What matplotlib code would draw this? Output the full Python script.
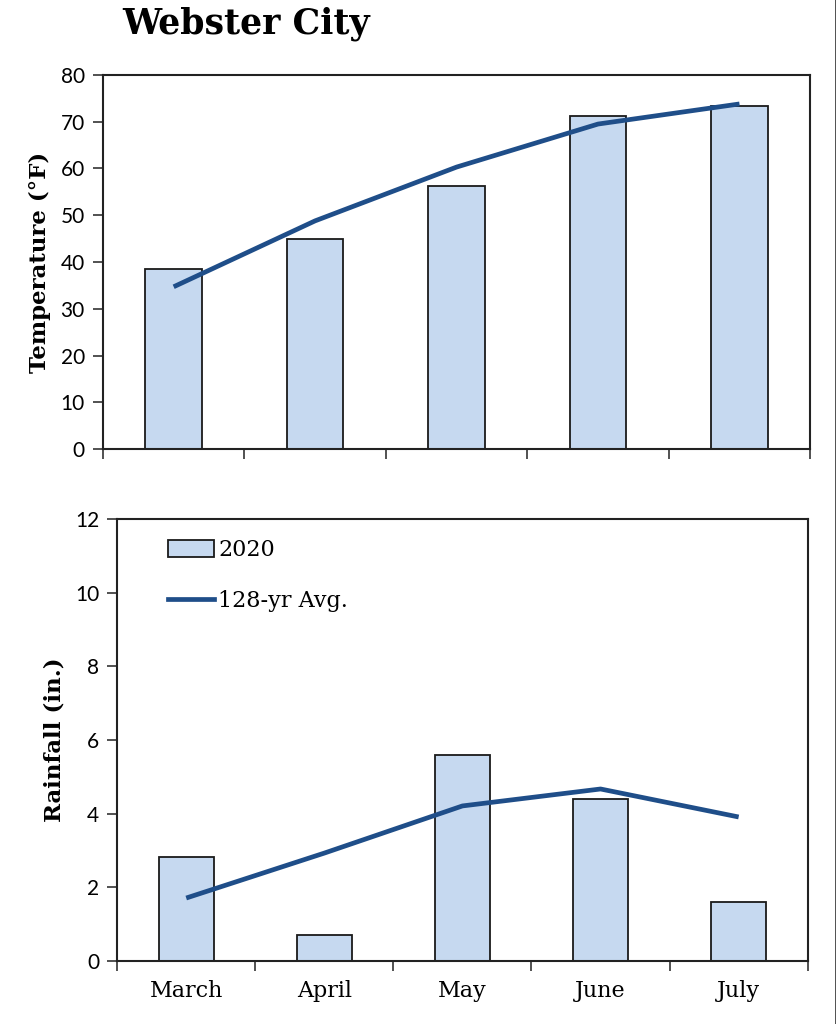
import matplotlib.pyplot as plt
from matplotlib.lines import Line2D
from matplotlib.patches import Patch

months = ['March', 'April', 'May', 'June', 'July']
temp_2020 = [38.5, 44.9, 56.3, 71.2, 73.4]
temp_avg = [34.7, 48.8, 60.3, 69.5, 73.8]
rain_2020 = [2.82, 0.71, 5.59, 4.40, 1.60]
rain_avg = [1.71, 2.93, 4.21, 4.67, 3.91]

bar_color = '#c6d9f0'
line_color = '#1f4e89'
serif = ['DejaVu Serif']
sans = ['Lato', 'DejaVu Sans']

fig = plt.figure(figsize=(8.37, 10.24), dpi=100)
ax1 = fig.add_axes([0.123, 0.5615, 0.845, 0.3653])
ax2 = fig.add_axes([0.140, 0.0615, 0.825, 0.4317])

x = range(len(months))


def style(ax, ymax, step, ylabel, show_months):
    ax.bar(x, vals[ax], width=0.4, color=bar_color, edgecolor='#1a1a1a',
           linewidth=1.3, zorder=2, label='2020')
    ax.plot(x, avgs[ax], color=line_color, linewidth=3.4, zorder=3,
            solid_capstyle='butt', label='128-yr Avg.')
    ax.set_xlim(-0.5, 4.5)
    ax.set_ylim(0, ymax)
    ax.set_yticks(range(0, ymax + 1, step))
    ax.set_xticks([i - 0.5 for i in range(6)])
    ax.set_xticklabels([])
    ax.set_xticks(list(x), minor=True)
    if show_months:
        ax.set_xticklabels(months, minor=True, fontsize=16, family=serif)
    ax.tick_params(axis='x', which='minor', length=0, pad=14)
    ax.tick_params(axis='x', which='major', direction='out', length=7,
                   width=1.2, color='#333333')
    ax.tick_params(axis='y', direction='out', length=7, width=1.2,
                   color='#333333', labelsize=15, pad=6)
    for lbl in ax.get_yticklabels():
        lbl.set_family(sans)
    for s in ax.spines.values():
        s.set_linewidth(1.5)
        s.set_color('#222222')
    ax.set_ylabel(ylabel, fontsize=16.5, fontweight='bold', family=serif,
                  labelpad=7)


vals = {ax1: temp_2020, ax2: rain_2020}
avgs = {ax1: temp_avg, ax2: rain_avg}

style(ax1, 80, 10, 'Temperature (°F)', False)
style(ax2, 12, 2, 'Rainfall (in.)', True)

handles = [Patch(facecolor=bar_color, edgecolor='#1a1a1a', linewidth=1.3),
           Line2D([], [], color=line_color, linewidth=3.4)]
ax2.legend(handles, ['2020', '128-yr Avg.'], loc='upper left',
           bbox_to_anchor=(0.045, 1.0), frameon=False,
           prop={'family': serif, 'size': 16}, handlelength=2.05,
           handleheight=0.8, handletextpad=0.2, labelspacing=1.3)

fig.text(0.146, 0.977, 'Webster City', fontsize=25, fontweight='heavy',
         family=serif, va='center', ha='left')

fig.add_artist(Line2D([0.9985, 0.9985], [0, 1], color='#333333',
                      linewidth=1.2, transform=fig.transFigure))

fig.savefig('out.png', dpi=100)
